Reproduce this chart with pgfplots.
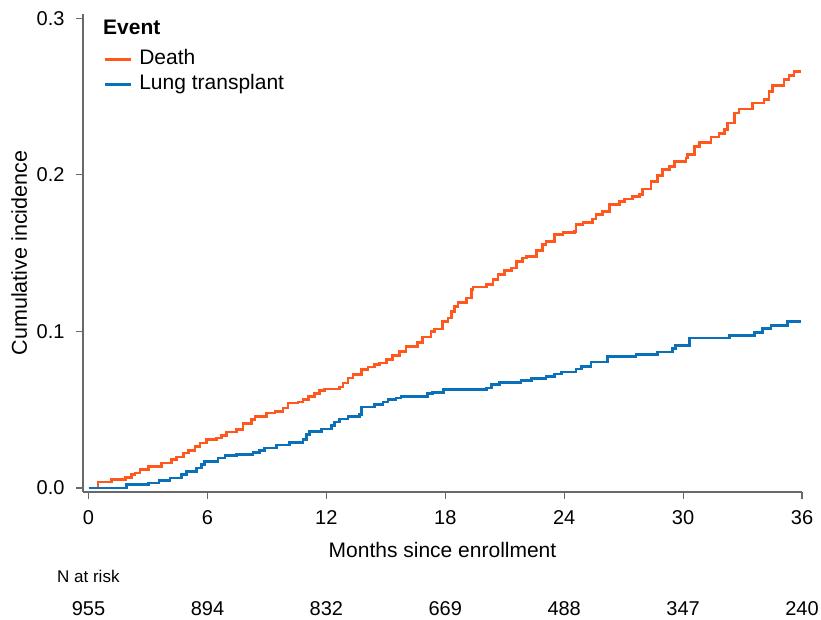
\documentclass[border=0pt]{standalone}
\usepackage{pgfplots}
\pgfplotsset{compat=1.18}
\usepackage{fontspec}
\setmainfont{Liberation Sans}
\definecolor{cdeath}{RGB}{255,88,30}
\definecolor{clung}{RGB}{10,112,185}
\definecolor{caxis}{RGB}{105,105,105}

\pgfplotstableread{
x y
0 0
0.47 0.0038
1.17 0.0053
1.85 0.0066
2.18 0.0085
2.35 0.0096
2.60 0.0117
3.02 0.0138
3.69 0.0160
4.19 0.0181
4.45 0.0198
4.78 0.0224
5.03 0.0240
5.37 0.0266
5.62 0.0288
5.96 0.0309
6.46 0.0320
6.71 0.0334
6.96 0.0358
7.47 0.0373
7.80 0.0411
8.22 0.0437
8.39 0.0458
8.98 0.0479
9.40 0.0490
9.82 0.0511
10.07 0.0543
10.57 0.0548
10.82 0.0565
11.10 0.0586
11.41 0.0603
11.66 0.0622
11.91 0.0633
12.67 0.0645
12.84 0.0671
13.09 0.0703
13.34 0.0724
13.76 0.0756
14.10 0.0773
14.43 0.0788
14.68 0.0799
15.02 0.0820
15.35 0.0846
15.69 0.0873
16.02 0.0905
16.61 0.0930
16.86 0.0964
17.28 0.1001
17.45 0.1016
17.87 0.1065
18.14 0.1086
18.31 0.1129
18.47 0.1160
18.64 0.1186
19.06 0.1214
19.31 0.1267
19.40 0.1284
20.07 0.1299
20.40 0.1331
20.66 0.1363
20.99 0.1390
21.33 0.1406
21.58 0.1448
21.91 0.1470
22.09 0.1480
22.59 0.1518
22.92 0.1555
23.09 0.1576
23.51 0.1619
23.93 0.1633
24.52 0.1640
24.60 0.1682
24.94 0.1697
25.44 0.1719
25.61 0.1746
25.94 0.1767
26.28 0.1810
26.79 0.1831
27.04 0.1847
27.46 0.1863
27.80 0.1874
27.96 0.1910
28.38 0.1959
28.72 0.1996
28.97 0.2034
29.30 0.2055
29.56 0.2087
30.15 0.2109
30.23 0.2130
30.56 0.2183
30.82 0.2208
31.40 0.2243
31.82 0.2264
32.08 0.2289
32.24 0.2332
32.58 0.2396
32.83 0.2422
33.50 0.2460
34.09 0.2481
34.34 0.2534
34.51 0.2571
35.10 0.2609
35.35 0.2634
35.60 0.2662
35.94 0.2662
}\death

\pgfplotstableread{
x y
0 0
1.93 0.0021
3.02 0.0032
3.56 0.0047
4.11 0.0064
4.70 0.0085
4.95 0.0106
5.45 0.0128
5.70 0.0149
5.84 0.0170
6.54 0.0192
6.88 0.0207
7.47 0.0213
8.30 0.0228
8.64 0.0241
8.89 0.0256
9.48 0.0273
10.15 0.0292
10.82 0.0309
10.99 0.0341
11.16 0.0362
11.74 0.0377
12.25 0.0398
12.42 0.0420
12.67 0.0441
13.09 0.0458
13.67 0.0469
13.76 0.0518
14.43 0.0532
14.85 0.0550
15.10 0.0564
15.52 0.0575
15.77 0.0586
17.11 0.0603
17.37 0.0611
17.92 0.0630
20.07 0.0639
20.32 0.0660
20.74 0.0675
21.83 0.0688
22.34 0.0698
23.09 0.0713
23.51 0.0728
23.85 0.0741
24.60 0.0760
24.86 0.0777
25.36 0.0805
26.20 0.0841
27.63 0.0852
28.72 0.0869
29.48 0.0890
29.61 0.0911
30.31 0.0958
32.33 0.0973
33.59 0.0994
34.00 0.1020
34.43 0.1039
35.26 0.1063
35.94 0.1063
}\lung

\begin{document}
\begin{tikzpicture}[x=1pt,y=1pt]
\useasboundingbox (0,0) rectangle (821,620);
\begin{axis}[
  at={(83pt,128pt)}, anchor=south west,
  scale only axis, width=719pt, height=478pt,
  xmin=-0.28, xmax=36, ymin=-0.0026, ymax=0.3028,
  axis x line*=bottom, axis y line*=left,
  axis line style={caxis, line width=1.6pt, -},
  xtick={0,6,12,18,24,30,36}, ytick={0,0.1,0.2,0.3},
  tick align=outside, major tick length=7pt,
  tick style={caxis, line width=1.2pt},
  /pgf/number format/assume math mode=true,
  ticklabel style={font=\fontsize{20}{24}\selectfont},
  xticklabel style={yshift=-8pt},
  yticklabel style={xshift=-8pt, /pgf/number format/.cd, fixed, fixed zerofill, precision=1},
  xlabel={Months since enrollment},
  ylabel={Cumulative incidence},
  every axis x label/.style={at={(axis description cs:0.5,0)}, anchor=base, yshift=-65.7pt, font=\fontsize{21}{25}\selectfont},
  every axis y label/.style={at={(axis description cs:0,0.5)}, anchor=base, xshift=-56pt, rotate=90, font=\fontsize{21.5}{25}\selectfont},
  clip=false,
  legend style={at={(axis description cs:0,1)}, anchor=north west, xshift=17pt, yshift=-31pt,
    draw=none, fill=none, font=\fontsize{21}{25}\selectfont, row sep=0pt,
    nodes={inner sep=2.5pt, text height=15pt, text depth=5pt},
    /tikz/every odd column/.append style={column sep=5pt}},
  legend cell align=left,
  legend image code/.code={\draw[#1] (0pt,0pt) -- (26pt,0pt);},
]
\addplot[const plot, cdeath, line width=2.6pt] table {\death};
\addlegendentry{Death}
\addplot[const plot, clung, line width=2.6pt] table {\lung};
\addlegendentry{Lung transplant}

\node[anchor=base, yshift=-124pt, font=\fontsize{20}{24}\selectfont] at (axis cs:0,-0.0026) {955};
\node[anchor=base, yshift=-124pt, font=\fontsize{20}{24}\selectfont] at (axis cs:6,-0.0026) {894};
\node[anchor=base, yshift=-124pt, font=\fontsize{20}{24}\selectfont] at (axis cs:12,-0.0026) {832};
\node[anchor=base, yshift=-124pt, font=\fontsize{20}{24}\selectfont] at (axis cs:18,-0.0026) {669};
\node[anchor=base, yshift=-124pt, font=\fontsize{20}{24}\selectfont] at (axis cs:24,-0.0026) {488};
\node[anchor=base, yshift=-124pt, font=\fontsize{20}{24}\selectfont] at (axis cs:30,-0.0026) {347};
\node[anchor=base, yshift=-124pt, font=\fontsize{20}{24}\selectfont] at (axis cs:36,-0.0026) {240};
\end{axis}
\node[anchor=base west, inner sep=0pt, font=\fontsize{21}{25}\selectfont\bfseries] at (103,585) {Event};
\node[anchor=base west, inner sep=0pt, font=\fontsize{17}{20}\selectfont] at (57,37.3) {N at risk};
\end{tikzpicture}
\end{document}
